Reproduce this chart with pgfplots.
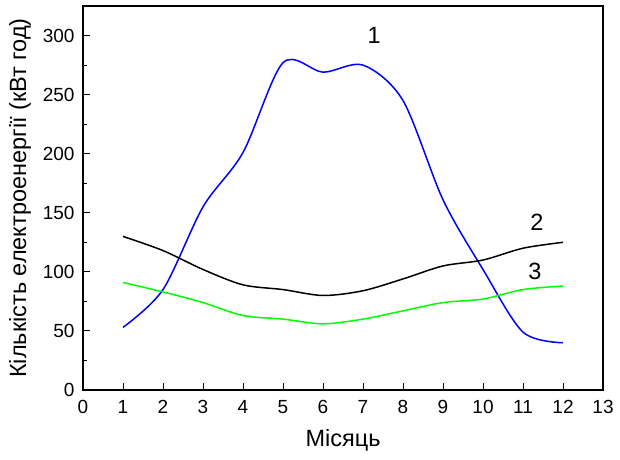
\documentclass[border=0pt]{standalone}
\usepackage{fontspec}
\setmainfont{Liberation Sans}
\usepackage{pgfplots}
\pgfplotsset{compat=1.18}

\begin{document}
\begin{tikzpicture}
\begin{axis}[
    name=ax,
    scale only axis,
    width=520pt, height=384pt,
    xmin=0, xmax=13,
    ymin=0, ymax=325,
    xtick={0,1,...,13},
    ytick={0,50,...,300},
    minor y tick num=1,
    tick align=inside,
    xtick pos=bottom,
    ytick pos=left,
    major tick length=7pt,
    minor tick length=4pt,
    axis line style={line width=1.3pt},
    every tick/.style={black, line width=1pt},
    tick label style={font=\fontsize{19}{22}\selectfont},
    xticklabel style={yshift=-6.5pt},
    yticklabel style={xshift=-5pt},
    label style={font=\fontsize{23.5}{28}\selectfont},
    /pgf/number format/assume math mode=true,
    xlabel={Місяць},
    ylabel={Кількість електроенергії (кВт год)},
    xlabel style={yshift=-9pt},
    ylabel style={yshift=5pt},
]

% 1
\addplot[color=blue, line width=1.5pt, smooth] coordinates {
    (1, 53) (2, 85) (3, 155) (4, 201) (5, 277) (6, 269)
    (7, 275) (8, 245) (9, 161) (10, 102) (11, 49) (12, 40)
};

% 2
\addplot[color=black, line width=1.5pt, smooth] coordinates {
    (1, 130) (2, 118) (3, 102) (4, 89) (5, 85) (6, 80)
    (7, 84) (8, 94) (9, 105) (10, 110) (11, 120) (12, 125)
};

% 3
\addplot[color=green, line width=1.5pt, smooth] coordinates {
    (1, 91) (2, 83) (3, 74) (4, 63) (5, 60) (6, 56)
    (7, 60) (8, 67) (9, 74) (10, 77) (11, 85) (12, 88)
};

\node[font=\fontsize{23.5}{28}\selectfont] at (axis cs:7.28,300) {1};
\node[font=\fontsize{23.5}{28}\selectfont] at (axis cs:11.35,142) {2};
\node[font=\fontsize{23.5}{28}\selectfont] at (axis cs:11.3,100) {3};

\end{axis}
% page margins as in the reference
\path ([xshift=-83pt,yshift=6pt]ax.north west) rectangle ([xshift=17pt,yshift=-69pt]ax.south east);
\end{tikzpicture}
\end{document}
